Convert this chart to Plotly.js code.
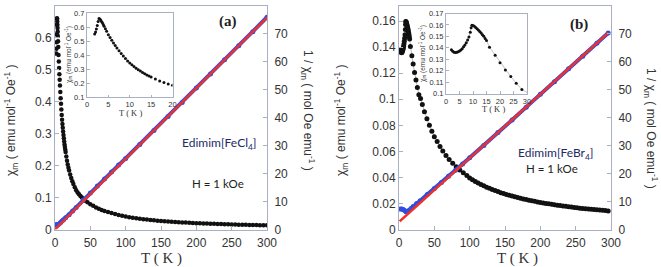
<!DOCTYPE html>
<html><head><meta charset="utf-8">
<script src="https://cdn.plot.ly/plotly-3.0.1.min.js"></script>
<style>html,body{margin:0;padding:0;background:#fff}#c{width:661px;height:267px}</style>
</head><body><div id="c"></div><script>
// ---------- Panel (a): Edimim[FeCl4] ----------
const Ta = [1.8,2.0,2.2,2.4,2.6,2.8,3.0,3.2,3.4,3.6,3.8,4.0,4.3,4.6,5.0,5.4,5.8,6.2,6.6,7.0,7.5,8.0,8.5,9.0,9.5,10,10.5,11,11.5,12,12.5,13,13.5,14,14.5,15,16,17,18,19,20,21.5,23,24.5,26,28,30,32,34,36,38,40,43,46,50,54,58,62,66,70,75,80,85,90,95,
  100,105,110,115,120,125,130,135,140,145,150,155,160,165,170,175,180,185,190,195,200,205,210,215,220,225,230,235,240,245,250,255,260,265,270,275,280,285,290,295,300];
const chiA = [0.55,0.565,0.585,0.61,0.64,0.66,0.658,0.65,0.64,0.63,0.618,0.605,0.588,0.57,0.545,0.525,0.505,0.485,0.468,0.45,0.43,0.41,0.393,0.375,0.358,0.343,0.33,0.318,0.306,0.295,0.285,0.275,0.266,0.258,0.25,0.242,0.228,0.215,0.203,0.193,0.184,0.172,0.161,0.151,0.142,0.132,0.123,0.116,0.11,0.105,0.1,0.096,0.09,0.085,0.079,0.074,0.069,0.065,0.061,0.058,0.0545,0.0512,0.0482,0.0455,0.0432,
  0.0405,0.0386,0.0368,0.0351,0.0336,0.0322,0.0309,0.0297,0.0286,0.0275,0.0266,0.0257,0.0249,0.0241,0.0234,0.0227,0.0221,0.0215,0.0209,0.0204,0.0199,0.0194,0.0189,0.0185,0.018,0.0176,0.0172,0.0168,0.0165,0.0161,0.0158,0.0155,0.0152,0.0149,0.0146,0.0144,0.0141,0.0139,0.0136,0.0134,0.0132];
const TinvA = [2,2.8,4,6,8,10,12,15,20,25,30,40,50,60,70,80,90,100,120,140,160,180,200,220,240,260,280,300];
const invA  = [1.8,1.52,1.7,2.07,2.5,3.0,3.45,4.2,5.3,6.6,7.9,10.5,13.0,15.5,18.0,20.5,23.0,25.4,30.4,35.4,40.4,45.4,50.5,55.5,60.6,65.6,70.6,75.8];
const fitTa = [0,300];
const fitA  = [0,75.7];

// ---------- Panel (b): Edimim[FeBr4] ----------
const Tb = [2.0,2.5,3,3.5,4,4.5,5,5.5,6,6.5,7,7.5,8,8.5,9,9.3,9.6,10,10.5,11,11.5,12,12.5,13,13.5,14,14.5,15,16.1,18.2,20,22,24,26,28.1,30.5,33,36,39.5,43,46.5,50,54,58,62,66.5,71,76,81,86,91,96,
  100,104,108,112,116,120,124,128,132,136,140,144,148,152,156,160,164,168,172,176,180,184,188,192,196,200,204,208,212,216,220,224,228,232,236,240,244,248,252,256,260,264,268,272,276,280,284,288,292,296];
const chiB = [0.1382,0.137,0.1362,0.1358,0.136,0.1365,0.1372,0.138,0.1392,0.1408,0.1425,0.1445,0.1468,0.1495,0.1535,0.1575,0.1597,0.1596,0.1588,0.1578,0.1567,0.1555,0.1543,0.153,0.1515,0.15,0.1482,0.1463,0.1405,0.1335,0.127,0.1205,0.1148,0.109,0.1035,0.1005,0.096,0.0905,0.085,0.08,0.0755,0.0713,0.0675,0.0638,0.0603,0.0568,0.0537,0.0508,0.0481,0.0457,0.0435,0.0415,
  0.0396,0.0382,0.0369,0.0357,0.0346,0.0335,0.0325,0.0316,0.0307,0.0299,0.0291,0.0283,0.0276,0.0269,0.0263,0.0257,0.0251,0.0245,0.024,0.0235,0.023,0.0225,0.0221,0.0216,0.0212,0.0208,0.0204,0.02,0.0197,0.0193,0.019,0.0187,0.0184,0.0181,0.0178,0.0175,0.0172,0.0169,0.0167,0.0164,0.0162,0.016,0.0157,0.0155,0.0153,0.0151,0.0149,0.0147,0.0145,0.0143];
const TinvB = [2,4,6,8,10,12,14,17,20,25,30,40,50,60,70,80,90,100,120,140,160,180,200,220,240,260,280,296];
const invB  = [7.3,7.35,7.15,6.8,6.3,6.4,6.8,7.5,8.2,9.3,10.3,12.5,14.6,16.8,19.0,21.2,23.4,25.6,30.0,34.6,39.1,43.7,48.3,52.8,57.4,61.9,66.5,70.2];
const fitTb = [1,296];
const fitB  = [2.9,70.2];

// ---------- ticks ----------
const xTicks = [0,50,100,150,200,250,300];
const y2Ticks = [0,10,20,30,40,50,60,70,80];
const yATicks = [0,0.1,0.2,0.3,0.4,0.5,0.6,0.7];
const yBTicks = [0,0.02,0.04,0.06,0.08,0.1,0.12,0.14,0.16];
const insAx = [0,5,10,15,20];
const insAy = [0.1,0.2,0.3,0.4,0.5,0.6,0.7];
const insBx = [0,5,10,15,20,25,30];
const insBy = [0.1,0.11,0.12,0.13,0.14,0.15,0.16,0.17];

const W=661,H=267;
const px = v=>v/W, py = v=>1-v/H;
const BLUE='#2e4ee0', RED='#f0302a', BLK='#111111';
const LC='#a9b0bf';
const tf = {family:'Liberation Sans, Arial, sans-serif', size:12, color:'#333'};
const tfs = {family:'Liberation Sans, Arial, sans-serif', size:7.5, color:'#333'};
const mainDom=[py(229.5),py(5.5)];

function ax(o){return Object.assign({showgrid:false,zeroline:false,showline:true,linecolor:LC,linewidth:1,ticks:'inside',ticklen:4,tickcolor:LC,tickfont:tf,fixedrange:true},o);}

const data = [
  {x:TinvA,y:invA,xaxis:'x',yaxis:'y2',mode:'lines+markers',line:{color:BLUE,width:4},marker:{color:BLUE,size:5},hoverinfo:'skip'},
  {x:fitTa,y:fitA,xaxis:'x',yaxis:'y2',mode:'lines',line:{color:RED,width:2.5},hoverinfo:'skip'},
  {x:Ta,y:chiA,xaxis:'x',yaxis:'y',mode:'markers',marker:{color:BLK,size:4.5},hoverinfo:'skip'},
  {x:TinvB,y:invB,xaxis:'x2',yaxis:'y4',mode:'lines+markers',line:{color:BLUE,width:4},marker:{color:BLUE,size:5},hoverinfo:'skip'},
  {x:fitTb,y:fitB,xaxis:'x2',yaxis:'y4',mode:'lines',line:{color:RED,width:2.5},hoverinfo:'skip'},
  {x:Tb,y:chiB,xaxis:'x2',yaxis:'y3',mode:'lines+markers',line:{color:'#999',width:0.7},marker:{color:BLK,size:5},hoverinfo:'skip'},
  {x:Ta,y:chiA,xaxis:'x3',yaxis:'y5',mode:'markers',marker:{color:BLK,size:3},hoverinfo:'skip'},
  {x:Tb,y:chiB,xaxis:'x4',yaxis:'y6',mode:'lines+markers',line:{color:'#999',width:0.6},marker:{color:BLK,size:3},hoverinfo:'skip'}
];

const layout = {
  width:W,height:H,margin:{l:0,r:0,t:0,b:0},paper_bgcolor:'#fff',plot_bgcolor:'rgba(0,0,0,0)',showlegend:false,
  xaxis: ax({domain:[px(55),px(267)],anchor:'y',range:[0,300],tickvals:xTicks,mirror:true,ticklabelstandoff:2}),
  yaxis: ax({domain:mainDom,anchor:'x',range:[0,0.7],tickvals:yATicks}),
  yaxis2: ax({overlaying:'y',side:'right',anchor:'x',range:[0,80],tickvals:y2Ticks,ticklabelstandoff:4}),
  xaxis2: ax({domain:[px(399),px(611)],anchor:'y3',range:[0,300],tickvals:xTicks,mirror:true,ticklabelstandoff:2}),
  yaxis3: ax({domain:mainDom,anchor:'x2',range:[0,0.172],tickvals:yBTicks}),
  yaxis4: ax({overlaying:'y3',side:'right',anchor:'x2',range:[0,80],tickvals:y2Ticks,ticklabelstandoff:4}),
  xaxis3: ax({domain:[px(87),px(172.5)],anchor:'y5',range:[0,20],tickvals:insAx,mirror:true,ticklen:2.5,tickfont:tfs}),
  yaxis5: ax({domain:[py(97),py(13)],anchor:'x3',range:[0.1,0.7],tickvals:insAy,mirror:true,ticklen:2.5,tickfont:tfs}),
  xaxis4: ax({domain:[px(446),px(527)],anchor:'y6',range:[0,30],tickvals:insBx,mirror:true,ticklen:2.5,tickfont:tfs}),
  yaxis6: ax({domain:[py(93.5),py(13.5)],anchor:'x4',range:[0.1,0.17],tickvals:insBy,mirror:true,ticklen:2.5,tickfont:tfs}),
  annotations:[]
};

function ann(text,x,y,font,angle){layout.annotations.push({text:text,x:px(x),y:py(y),xref:'paper',yref:'paper',showarrow:false,xanchor:'center',yanchor:'middle',textangle:angle||0,font:font});}
const serif={family:'Liberation Serif, Times New Roman, serif',size:15,color:'#333'};
const sans={family:'Liberation Sans, Arial, sans-serif',size:12,color:'#333'};
const labF={family:'Lato, Carlito, sans-serif',size:12,color:'#1c2a66'};
const hF={family:'Lato, Carlito, sans-serif',size:11.5,color:'#222'};
const insT={family:'Liberation Serif, serif',size:8.5,color:'#333'};
const insY={family:'Liberation Sans, Arial, sans-serif',size:6.5,color:'#333'};
// panel (a)
ann('T ( K )',161,258,serif);
ann('χ<sub>m</sub> ( emu mol<sup>-1</sup> Oe<sup>-1</sup> )',11,120,sans,-90);
ann('1 / χ<sub>m</sub> ( mol Oe emu<sup>-1</sup> )',308,110,sans,90);
ann('<b>(a)</b>',228,22,{family:'Liberation Serif, serif',size:15,color:'#222'});
ann('Edimim[FeCl<sub>4</sub>]',220,143,labF);
ann('H = 1 kOe',218,183,hF);
ann('T ( K )',130,113,insT);
ann('χ<sub>m</sub> (emu mol<sup>-1</sup> Oe<sup>-1</sup>)',68,55,insY,-90);
// panel (b)
ann('T ( K )',517,258,serif);
ann('χ<sub>m</sub> ( emu mol<sup>-1</sup> Oe<sup>-1</sup> )',341,120,sans,-90);
ann('1 / χ<sub>m</sub> ( mol Oe emu<sup>-1</sup> )',651,128,sans,90);
ann('<b>(b)</b>',579,24,{family:'Liberation Serif, serif',size:15,color:'#222'});
ann('Edimim[FeBr<sub>4</sub>]',556,153,labF);
ann('H = 1 kOe',552,168,hF);
ann('T ( K )',493,109,insT);
ann('χ<sub>m</sub> (emu mol<sup>-1</sup> Oe<sup>-1</sup>)',422,54,insY,-90);

Plotly.newPlot('c',data,layout,{staticPlot:true,displayModeBar:false});
</script></body></html>
